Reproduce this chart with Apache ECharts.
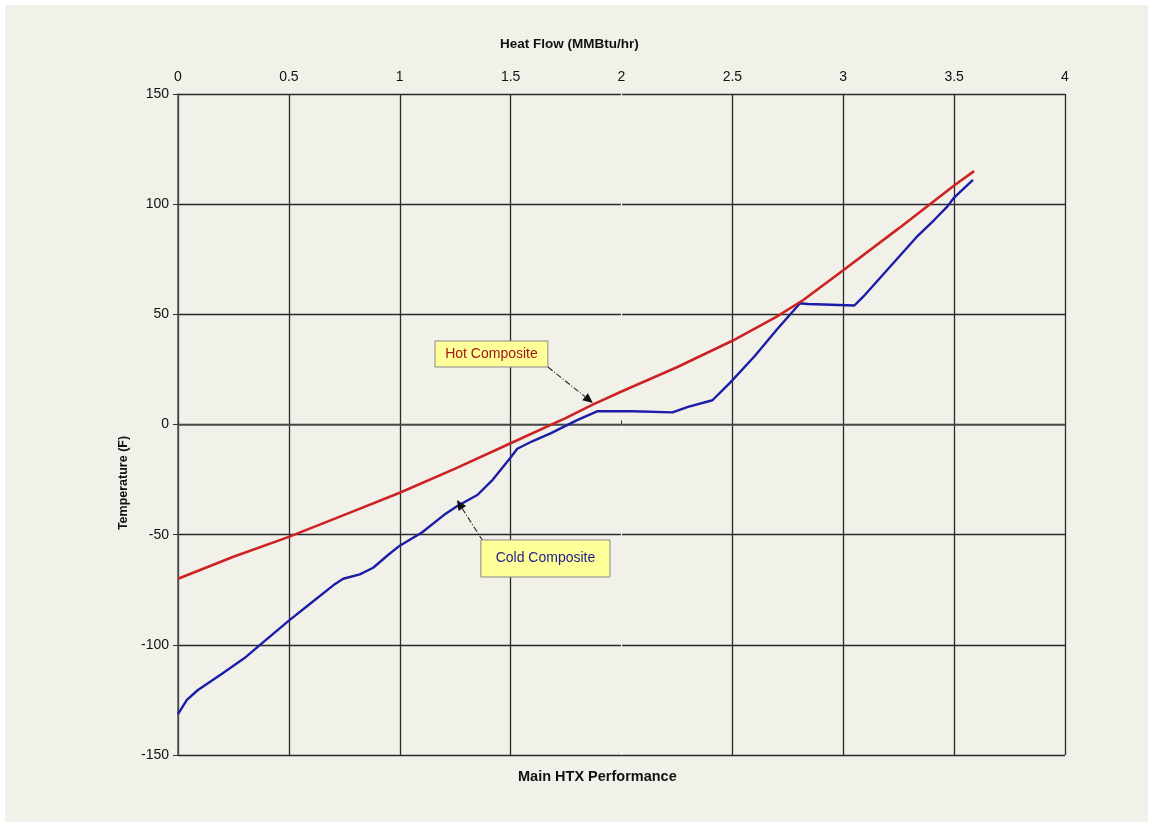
<!DOCTYPE html>
<html><head><meta charset="utf-8">
<script src="https://cdn.jsdelivr.net/npm/echarts@6/dist/echarts.min.js"></script>
<style>html,body{margin:0;padding:0;background:#fff}#c{width:1150px;height:825px}</style>
</head><body><div id="c"></div>
<script>
const xTicks = [0, 0.5, 1, 1.5, 2, 2.5, 3, 3.5, 4];
const yTicks = [-150, -100, -50, 0, 50, 100, 150];
const hotX = [0, 0.25, 0.5, 0.75, 1, 1.25, 1.5, 1.75, 1.87, 2, 2.25, 2.5, 2.7, 2.82, 3, 3.25, 3.5, 3.59];
const hotY = [-70, -60, -51, -41, -31, -20, -8.5, 3, 9, 15, 26, 38, 49, 56.5, 70, 89, 108.5, 115];
const coldX = [0, 0.04, 0.09, 0.2, 0.3, 0.37, 0.5, 0.6, 0.7, 0.745, 0.82, 0.88, 0.95, 1, 1.1, 1.2, 1.26, 1.35, 1.42, 1.5, 1.53, 1.6, 1.68, 1.8, 1.89, 2.05, 2.23, 2.3, 2.41, 2.49, 2.6, 2.7, 2.805, 2.84, 3.05, 3.09, 3.21, 3.33, 3.41, 3.47, 3.5, 3.585];
const coldY = [-131.5, -125, -120.5, -113, -106, -100, -89, -81, -73, -70, -68, -65, -59, -55, -49, -41, -37, -32, -25, -15, -11, -7.5, -4, 2, 6, 6, 5.5, 8, 11, 19, 31, 43, 55, 54.7, 54, 58, 71.5, 85, 92.8, 99, 103, 111];
const hotLabel = 'Hot Composite';
const coldLabel = 'Cold Composite';
// annotation anchors in data space
const hotBox = [[1.159, 37.9], [1.668, 26.1]];
const hotArrow = [[1.668, 26.1], [1.871, 9.8]];
const coldBox = [[1.366, -52.4], [1.948, -69.2]];
const coldArrow = [[1.375, -52.9], [1.258, -34.3]];

const zip = (a, b) => a.map((v, i) => [v, b[i]]);
const chart = echarts.init(document.getElementById('c'), null, {renderer: 'canvas'});
const font = 'Liberation Sans, Arial, sans-serif';
const gridColors = xTicks.map(v => v === 2 ? '#f4f4f0' : '#2a2a2a');

const baseGraphic = [
  {type: 'rect', shape: {x: 5, y: 5, width: 1143, height: 817}, style: {fill: '#f1f1ea'}, z: -10, silent: true},
  {type: 'text', left: 500, top: 37, style: {text: 'Heat Flow (MMBtu/hr)', font: 'bold 13.5px ' + font, fill: '#111'}},
  {type: 'text', left: 518, top: 769, style: {text: 'Main HTX Performance', font: 'bold 14.5px ' + font, fill: '#111'}},
  {type: 'text', x: 124, y: 483, rotation: Math.PI / 2, style: {text: 'Temperature (F)', font: 'bold 12.5px ' + font, fill: '#111', align: 'center', verticalAlign: 'middle'}}
];

chart.setOption({
  backgroundColor: '#ffffff',
  animation: false,
  grid: {left: 178, right: 85, top: 94, bottom: 70},
  xAxis: {
    type: 'value', position: 'top', min: 0, max: 4, interval: 0.5,
    axisLine: {show: true, lineStyle: {color: '#555', width: 1.5}},
    axisTick: {show: true, length: 4, lineStyle: {color: '#333'}},
    axisLabel: {color: '#111', fontSize: 14, fontFamily: font, margin: 10},
    splitLine: {show: true, lineStyle: {color: gridColors, width: 1.3}}
  },
  yAxis: {
    type: 'value', min: -150, max: 150, interval: 50,
    axisLine: {show: true, lineStyle: {color: '#555', width: 1.5}},
    axisTick: {show: true, length: 5, lineStyle: {color: '#333'}},
    axisLabel: {color: '#111', fontSize: 14, fontFamily: font, margin: 9},
    splitLine: {show: true, lineStyle: {color: '#2a2a2a', width: 1.3}}
  },
  series: [
    {name: hotLabel, type: 'line', data: zip(hotX, hotY), showSymbol: false,
     lineStyle: {color: '#cc2222', width: 2.6}, z: 3},
    {name: coldLabel, type: 'line', data: zip(coldX, coldY), showSymbol: false,
     lineStyle: {color: '#1c1ca8', width: 2.4}, z: 2}
  ],
  graphic: baseGraphic
});

function px(p) { return chart.convertToPixel({gridIndex: 0}, p); }
function boxGraphic(box, label, color) {
  const a = px(box[0]), b = px(box[1]);
  return [
    {type: 'rect', shape: {x: a[0], y: a[1], width: b[0] - a[0], height: b[1] - a[1]},
     style: {fill: '#ffff99', stroke: '#888', lineWidth: 1}, z: 20},
    {type: 'text', x: (a[0] + b[0]) / 2, y: (a[1] + b[1]) / 2, z: 21,
     style: {text: label, font: '14px ' + font, fill: color, align: 'center', verticalAlign: 'middle'}}
  ];
}
function arrowGraphic(seg) {
  const a = px(seg[0]), b = px(seg[1]);
  const ang = Math.atan2(b[1] - a[1], b[0] - a[0]);
  const L = 10, W = 4.5;
  const bx = b[0] - L * Math.cos(ang), by = b[1] - L * Math.sin(ang);
  const nx = -Math.sin(ang) * W, ny = Math.cos(ang) * W;
  return [
    {type: 'line', shape: {x1: a[0], y1: a[1], x2: bx, y2: by}, style: {stroke: '#222', lineWidth: 1.1, lineDash: [6, 2, 1, 2]}, z: 19},
    {type: 'polygon', shape: {points: [[b[0], b[1]], [bx + nx, by + ny], [bx - nx, by - ny]]}, style: {fill: '#111'}, z: 19}
  ];
}
const extra = [].concat(
  arrowGraphic(hotArrow), boxGraphic(hotBox, hotLabel, '#a01818'),
  arrowGraphic(coldArrow), boxGraphic(coldBox, coldLabel, '#1c1c8c')
);
chart.setOption({graphic: baseGraphic.concat(extra)}, {replaceMerge: ['graphic']});
</script></body></html>
